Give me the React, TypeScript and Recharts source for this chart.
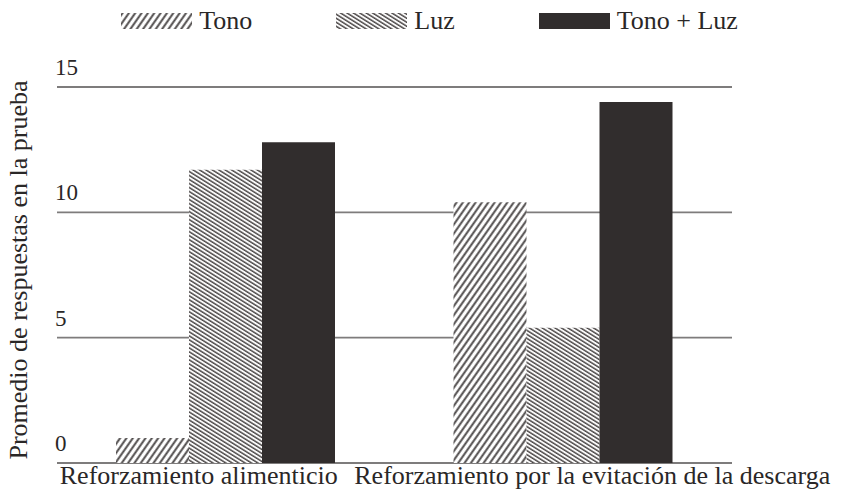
import React from 'react';
import { BarChart, Bar, XAxis, YAxis, CartesianGrid } from 'recharts';

const categories = ['Reforzamiento alimenticio', 'Reforzamiento por la evitación de la descarga'];
const tono = [1.0, 10.4];
const luz = [11.7, 5.4];
const tonoLuz = [12.8, 14.4];
const yTicks = [0, 5, 10, 15];
const seriesNames = ['Tono', 'Luz', 'Tono + Luz'];
const yLabel = 'Promedio de respuestas en la prueba';

const data = categories.map((c, i) => ({ category: c, tono: tono[i], luz: luz[i], tonoLuz: tonoLuz[i] }));

const FONT = '"Liberation Serif", "Times New Roman", serif';
const TEXT = '#2a2727';
const DARK = '#312d2d';
const HATCH = '#4a4646';
const GRID = '#7e7c7c';

const xOffsets = [-27, 29];

const PatternDefs = ({ prefix }: { prefix: string }) => (
  <defs>
    <pattern id={`${prefix}-tono`} width="5.2" height="5.2" patternUnits="userSpaceOnUse" patternTransform="rotate(35)">
      <rect width="5.2" height="5.2" fill="#fff" />
      <line x1="1.3" y1="0" x2="1.3" y2="5.2" stroke={HATCH} strokeWidth="1.9" />
    </pattern>
    <pattern id={`${prefix}-luz`} width="3.4" height="3.4" patternUnits="userSpaceOnUse" patternTransform="rotate(32)">
      <rect width="3.4" height="3.4" fill="#fff" />
      <line x1="0" y1="1" x2="3.4" y2="1" stroke={HATCH} strokeWidth="1.5" />
    </pattern>
  </defs>
);

const XTick = (props: any) => {
  const { x, y, payload, index } = props;
  return (
    <text x={x + (xOffsets[index] || 0)} y={y} dy={21} textAnchor="middle" fontFamily={FONT} fontSize={26} fill={TEXT}>
      {payload.value}
    </text>
  );
};

const YTick = (props: any) => {
  const { x, y, payload } = props;
  return (
    <text x={x - 2} y={y} dy={-12} textAnchor="start" fontFamily={FONT} fontSize={23} fill={TEXT}>
      {payload.value}
    </text>
  );
};

const YLabel = (props: any) => {
  const vb = props.viewBox || {};
  const cx = 27;
  const cy = vb.y + vb.height / 2 - 5;
  return (
    <text x={cx} y={cy} transform={`rotate(-90, ${cx}, ${cy})`} textAnchor="middle" fontFamily={FONT} fontSize={26} fill={TEXT}>
      {yLabel}
    </text>
  );
};

const fills = ['url(#bar-tono)', 'url(#bar-luz)', DARK];
const legendFills = ['url(#lg-tono)', 'url(#lg-luz)', DARK];

const LegendBox = () => (
  <div
    style={{
      position: 'absolute',
      top: 8,
      left: 0,
      width: 853,
      display: 'flex',
      justifyContent: 'center',
      gap: 84,
      fontFamily: FONT,
      fontSize: 26,
      color: TEXT,
      paddingLeft: 6,
      boxSizing: 'border-box',
    }}
  >
    {seriesNames.map((n, i) => (
      <div key={n} style={{ display: 'flex', alignItems: 'center' }}>
        <svg width={71} height={16} style={{ marginRight: 7 }}>
          {i === 0 && <PatternDefs prefix="lg" />}
          <rect width={71} height={16} fill={legendFills[i]} />
        </svg>
        <span style={{ lineHeight: '26px' }}>{n}</span>
      </div>
    ))}
  </div>
);

export default function App() {
  return (
    <div style={{ position: 'absolute', left: 0, top: 0, width: 853, height: 494, background: '#fff', overflow: 'hidden' }}>
      <BarChart
        width={853}
        height={494}
        data={data}
        margin={{ top: 87, right: 121, bottom: 1, left: 0 }}
        barGap={0}
        barSize={73}
      >
        <PatternDefs prefix="bar" />
        <CartesianGrid horizontal vertical={false} stroke={GRID} strokeWidth={1.8} />
        <XAxis dataKey="category" height={30} axisLine={false} tickLine={false} tickSize={0} tickMargin={0} tick={<XTick />} interval={0} />
        <YAxis
          domain={[0, 15]}
          ticks={yTicks}
          width={57}
          axisLine={false}
          tickLine={false}
          tickSize={0}
          tickMargin={0}
          tick={<YTick />}
          label={<YLabel />}
        />
        <Bar dataKey="tono" name={seriesNames[0]} fill={fills[0]} isAnimationActive={false} />
        <Bar dataKey="luz" name={seriesNames[1]} fill={fills[1]} isAnimationActive={false} />
        <Bar dataKey="tonoLuz" name={seriesNames[2]} fill={fills[2]} isAnimationActive={false} />
      </BarChart>
      <LegendBox />
    </div>
  );
}
